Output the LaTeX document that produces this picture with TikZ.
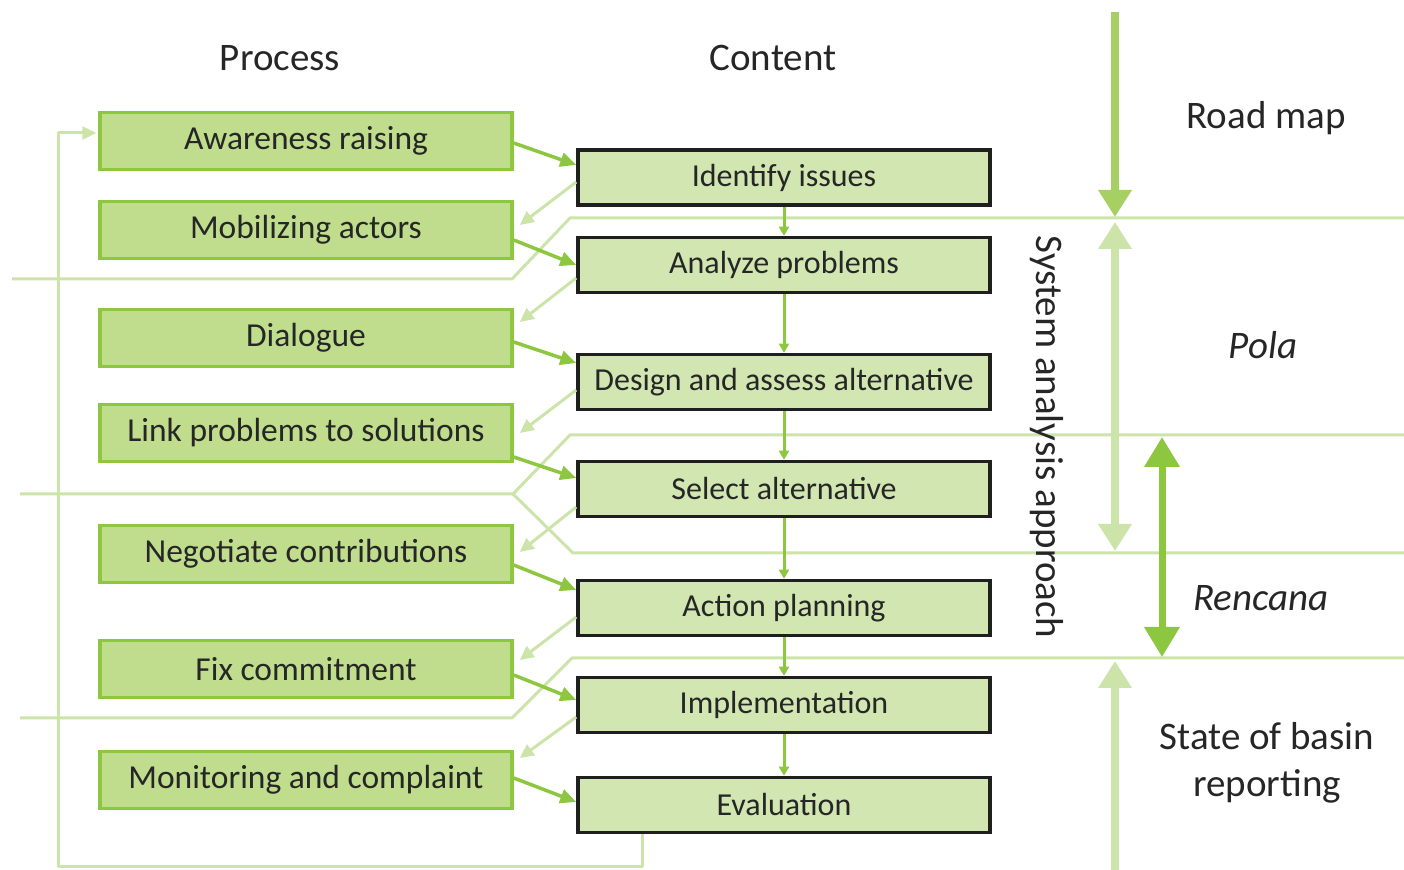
\documentclass[tikz,border=0pt]{standalone}
\usepackage{fontspec}
\setmainfont{Carlito}
\usetikzlibrary{arrows.meta,calc}
\definecolor{procfill}{HTML}{BFDD8D}
\definecolor{procedge}{HTML}{8DC63F}
\definecolor{contfill}{HTML}{D1E6B0}
\definecolor{phase}{HTML}{CCE4AA}
\definecolor{roadgreen}{HTML}{A6D063}
\definecolor{txt}{HTML}{262626}
\begin{document}
\begin{tikzpicture}[x=0.5pt,y=-0.5pt,
  procbox/.style={draw=procedge, line width=1.75pt, fill=procfill,
    minimum width=206pt, minimum height=28.5pt, inner sep=0pt,
    font=\fontsize{16.75}{18}\selectfont, text=txt},
  contbox/.style={draw=black!88, line width=1.75pt, fill=contfill,
    minimum width=206pt, minimum height=27.5pt, inner sep=0pt,
    font=\fontsize{16}{18}\selectfont, text=txt},
  feed/.style={procedge, line width=1.75pt, -{Triangle[width=7pt,length=8pt]}},
  back/.style={phase, line width=1.5pt, -{Triangle[width=6.5pt,length=7pt]}},
  flow/.style={procedge, line width=1.5pt, -{Triangle[width=5pt,length=4.5pt]}},
  phaseline/.style={phase, line width=1.5pt, line join=round},
  heading/.style={font=\fontsize{19.5}{23.5}\selectfont, text=txt},
]
\useasboundingbox (0,0) rectangle (1404,870);

% phase boundaries
\draw[phaseline] (1404,218) -- (570,218) -- (512,279) -- (12,279);
\draw[phaseline] (1404,435) -- (570,435) -- (513,494) -- (20,494);
\draw[phaseline] (1404,553) -- (573,553) -- (513,494);
\draw[phaseline] (1404,658) -- (572,658) -- (512,718) -- (20,718);

% column headings
\node[heading] (hproc) at (280,58) {Process};
\node[heading] (hcont) at (773,58) {Content};

% process steps
\node[procbox] (p1) at (306,141) {Awareness raising};
\node[procbox] (p2) at (306,230) {Mobilizing actors};
\node[procbox] (p3) at (306,338) {Dialogue};
\node[procbox] (p4) at (306,433) {Link problems to solutions};
\node[procbox] (p5) at (306,554) {Negotiate contributions};
\node[procbox] (p6) at (306,669) {Fix commitment};
\node[procbox] (p7) at (306,780) {Monitoring and complaint};

% content steps
\node[contbox] (c1) at (784,177.5) {Identify issues};
\node[contbox] (c2) at (784,265) {Analyze problems};
\node[contbox] (c3) at (784,382) {Design and assess alternative};
\node[contbox] (c4) at (784,489) {Select alternative};
\node[contbox] (c5) at (784,608) {Action planning};
\node[contbox] (c6) at (784,705) {Implementation};
\node[contbox] (c7) at (784,805) {Evaluation};

% content sequence
\draw[flow] (c1.south) -- (c2.north);
\draw[flow] (c2.south) -- (c3.north);
\draw[flow] (c3.south) -- (c4.north);
\draw[flow] (c4.south) -- (c5.north);
\draw[flow] (c5.south) -- (c6.north);
\draw[flow] (c6.south) -- (c7.north);

% process feeds content
\draw[feed] ($(p1.east)+(0,2)$)  -- ($(c1.west)+(0,-12.5)$);
\draw[feed] ($(p2.east)+(0,10)$) -- ($(c2.west)+(0,0)$);
\draw[feed] ($(p3.east)+(0,4)$)  -- ($(c3.west)+(0,-19)$);
\draw[feed] ($(p4.east)+(0,24)$) -- ($(c4.west)+(0,-11)$);
\draw[feed] ($(p5.east)+(0,11)$) -- ($(c5.west)+(0,-18)$);
\draw[feed] ($(p6.east)+(0,6)$)  -- ($(c6.west)+(0,-5)$);
\draw[feed] ($(p7.east)+(0,-2)$) -- ($(c7.west)+(0,-3)$);

% content returns to next process step
\draw[back] ($(c1.west)+(0,4.5)$) -- ($(p2.east)+(6,-5)$);
\draw[back] ($(c2.west)+(0,13)$)  -- ($(p3.east)+(6,-16)$);
\draw[back] ($(c3.west)+(0,8)$)   -- ($(p4.east)+(6,0)$);
\draw[back] ($(c4.west)+(0,18)$)  -- ($(p5.east)+(6,-2)$);
\draw[back] ($(c5.west)+(0,9)$)   -- ($(p6.east)+(6,-9)$);
\draw[back] ($(c6.west)+(0,12)$)  -- ($(p7.east)+(6,-22)$);

% evaluation loops back to awareness raising
\coordinate (loopr) at (642,867);
\coordinate (loopl) at (58,867);
\draw[back, line join=round] (c7.south -| loopr) -- (loopr) -- (loopl)
  |- ($(p1.west)+(-2,-8)$);

% phases on the right
\draw[roadgreen, line width=4pt, -{Triangle[width=16pt,length=13.5pt]}]
  (1115,12) -- (1115,217);
\draw[phase, line width=4pt,
  {Triangle[width=16pt,length=13.5pt]}-{Triangle[width=16pt,length=13.5pt]}]
  (1115,222) -- (1115,551);
\draw[procedge, line width=3.5pt,
  {Triangle[width=17pt,length=15pt]}-{Triangle[width=17pt,length=15pt]}]
  (1162,437) -- (1162,657);
\draw[phase, line width=4pt, -{Triangle[width=16pt,length=13.5pt]}]
  (1115,870) -- (1115,661);

\node[heading, rotate=-90] (sys) at (1047,437) {System analysis approach};
\node[heading] (road) at (1266,118) {Road map};
\node[heading, font=\fontsize{19.5}{23.5}\selectfont\itshape] (pola) at (1263,345) {Pola};
\node[heading, font=\fontsize{19.5}{23.5}\selectfont\itshape] (renc) at (1261,598) {Rencana};
\node[heading, align=center] (state) at (1267,763) {State of basin\\reporting};
\end{tikzpicture}
\end{document}
